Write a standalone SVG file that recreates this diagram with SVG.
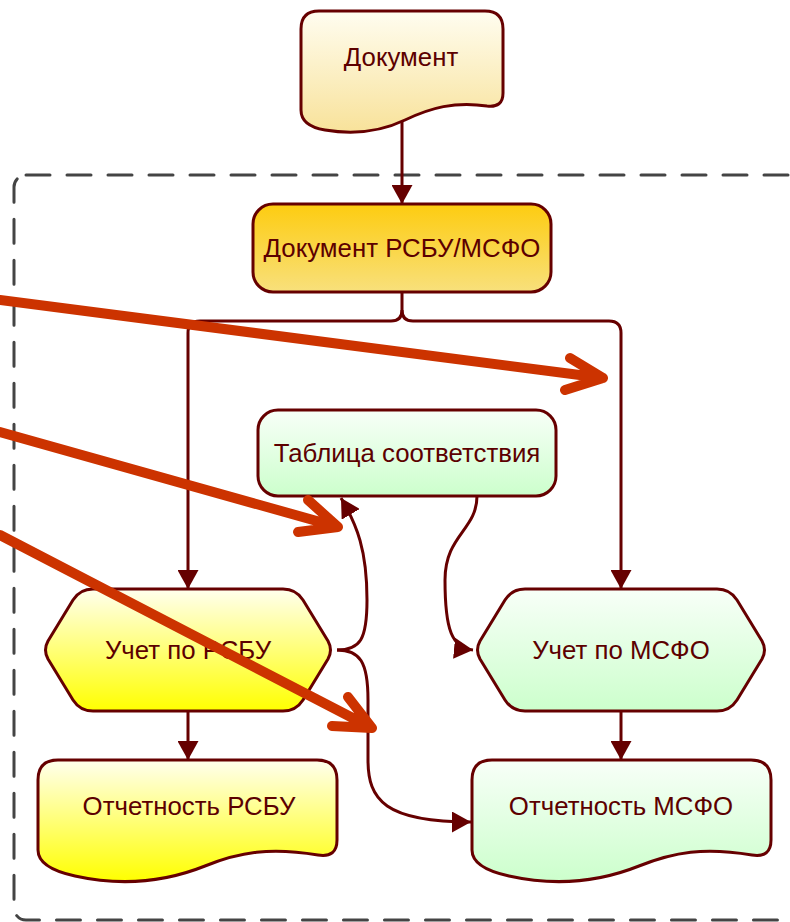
<svg xmlns="http://www.w3.org/2000/svg" width="790" height="922" viewBox="0 0 790 922">
<defs>
<style>
.node{stroke:#660000;stroke-width:3;stroke-linejoin:round}
.lbl{font-family:"Liberation Sans",Arial,sans-serif;font-size:25.8px;fill:#5c0000;text-anchor:middle}
.conn{fill:none;stroke:#660000;stroke-width:3;marker-end:url(#ah)}
.red{fill:none;stroke:#cc3300;stroke-width:10;stroke-linecap:round;stroke-linejoin:round}
.frame{fill:none;stroke:#444444;stroke-width:3;stroke-dasharray:24 17;stroke-linecap:round}
</style>
<marker id="ah" viewBox="0 0 19 21" refX="19" refY="10.5" markerWidth="19" markerHeight="21" markerUnits="userSpaceOnUse" orient="auto">
<path d="M0,0 L19,10.5 L0,21 Z" fill="#660000"/>
</marker>
<linearGradient id="gDoc" x1="0" y1="0" x2="0" y2="1"><stop offset="0" stop-color="#fffdf0"/><stop offset="1" stop-color="#f8e29a"/></linearGradient>
<linearGradient id="gGold" x1="0" y1="0" x2="0" y2="1"><stop offset="0" stop-color="#fdcc10"/><stop offset="1" stop-color="#f8e07c"/></linearGradient>
<linearGradient id="gYel" x1="0" y1="0" x2="0" y2="1"><stop offset="0" stop-color="#ffffee"/><stop offset="1" stop-color="#ffff00"/></linearGradient>
<linearGradient id="gGrn" x1="0" y1="0" x2="0" y2="1"><stop offset="0" stop-color="#f8fff8"/><stop offset="1" stop-color="#ccffcc"/></linearGradient>
</defs>
<rect width="790" height="922" fill="#ffffff"/>
<rect class="frame" x="14" y="175" width="820" height="745" rx="12"/>

<g id="connectors">
<path class="conn" d="M402,118 L402,204"/>
<path class="conn" d="M402,292 L402,310 Q402,321 391,321 L200,321 Q188,321 188,333 L188,589"/>
<path class="conn" d="M402,310 Q402,321 413,321 L609,321 Q621,321 621,333 L621,589"/>
<path class="conn" d="M188,711 L188,760"/>
<path class="conn" d="M621,711 L621,760"/>
<path class="conn" d="M477,496 C477,530 445,535 445,580 C445,630 452,648 473,650"/>
<path class="conn" d="M337,650 C360,650 367,640 367,600 C367,550 357,525 341,498"/>
<path class="conn" d="M337,650 C360,650 368,662 368,700 L368,760 C368,800 385,822 471,822"/>
</g>

<g id="n1">
<path class="node" fill="url(#gDoc)" d="M301,29 Q301,11 319,11 L485,11 Q503,11 503,29 L503,93 Q503,108 487,106 C455,101 430,108 405,120 C380,132 355,135 325,130 Q301,126 301,110 Z"/>
<text class="lbl" x="401" y="66">Документ</text>
</g>
<g id="n2">
<rect class="node" fill="url(#gGold)" x="253" y="204" width="298" height="88" rx="20"/>
<text class="lbl" x="402" y="257">Документ РСБУ/МСФО</text>
</g>
<g id="n3">
<rect class="node" fill="url(#gGrn)" x="258" y="410" width="298" height="86" rx="20"/>
<text class="lbl" x="407" y="462">Таблица соответствия</text>
</g>
<g id="n4">
<path class="node" fill="url(#gYel)" d="M48,641 L73,600 Q80,589 93,589 L283,589 Q296,589 303,600 L328,641 Q333,650 328,659 L303,700 Q296,711 283,711 L93,711 Q80,711 73,700 L48,659 Q43,650 48,641 Z"/>
<text class="lbl" x="188" y="659">Учет по РСБУ</text>
</g>
<g id="n5">
<path class="node" fill="url(#gGrn)" d="M480,641 L505,600 Q512,589 525,589 L717,589 Q730,589 737,600 L762,641 Q767,650 762,659 L737,700 Q730,711 717,711 L525,711 Q512,711 505,700 L480,659 Q475,650 480,641 Z"/>
<text class="lbl" x="621" y="659">Учет по МСФО</text>
</g>
<g id="n6">
<path class="node" fill="url(#gYel)" d="M38,780 Q38,760 58,760 L317,760 Q337,760 337,780 L337,840 Q337,858 318,855 C270,847 240,852 205,866 C165,882 120,886 75,876 Q38,868 38,850 Z"/>
<text class="lbl" x="189" y="815">Отчетность РСБУ</text>
</g>
<g id="n7">
<path class="node" fill="url(#gGrn)" d="M472,780 Q472,760 492,760 L751,760 Q771,760 771,780 L771,840 Q771,858 752,855 C704,847 674,852 639,866 C599,882 554,886 509,876 Q472,868 472,850 Z"/>
<text class="lbl" x="621" y="815">Отчетность МСФО</text>
</g>

<g id="red-arrows">
<path class="red" d="M0,300 L603,378 M570,358 L603,378 L565,390"/>
<path class="red" d="M0,432 L338,527 M308,500 L338,527 L298,532"/>
<path class="red" d="M0,535 L372,728 M348,697 L372,728 L332,726"/>
</g>
</svg>
